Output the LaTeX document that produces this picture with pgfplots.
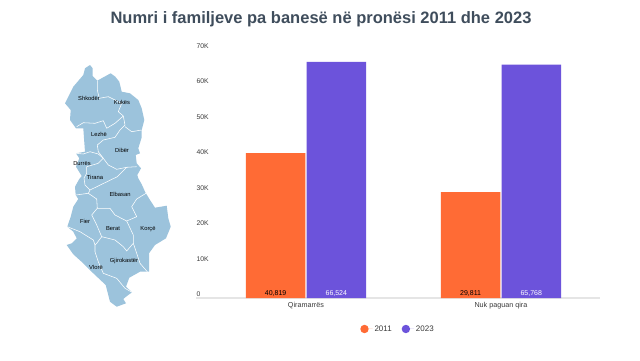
\documentclass[border=0pt]{standalone}
\usepackage{pgfplots}
\pgfplotsset{compat=1.18}
\usepackage{fontspec}
\setmainfont{Liberation Sans}
\definecolor{mapblue}{HTML}{9CC3DC}
\definecolor{barorange}{HTML}{FF6B35}
\definecolor{barpurple}{HTML}{6C53DB}
\definecolor{titlecol}{HTML}{3F4D5C}
\definecolor{txtcol}{HTML}{3A3A3A}
\tikzset{
  mapborder/.style={white,line width=0.55pt,line join=round,no markers},
  lab/.style={font=\fontsize{5.8}{6}\selectfont,text=black,inner sep=0pt}}
\begin{document}
\begin{tikzpicture}[x=1pt,y=1pt]
\path[use as bounding box,fill=white] (0,0) rectangle (640,360);
\begin{axis}[
  at={(0pt,0pt)},anchor=south west,scale only axis,width=640pt,height=360pt,
  xmin=0,xmax=640,ymin=0,ymax=360,y dir=reverse,axis lines=none,clip=false]
\addplot[fill=mapblue,draw=none,no markers] coordinates {
(90,65)(92.7,68.3)(92.7,76)(97.3,80.7)(103.3,77.3)(110.7,73.3)(115.3,76.7)(119.3,81.7)(121.7,91.7)(130,93.3)(138.3,100)(141.7,108.3)(144.3,120)(141.7,130)(141.7,137.3)(138.3,148.3)(140,153.3)(135.7,155)(136.7,163.3)(141,168.3)(137.3,175)(138.3,178.3)(141.7,184.3)(145.3,192.3)(150,200)(155,207.7)(166.7,205.7)(168.3,218.3)(170.7,226.7)(166,238.3)(155,245)(149,253.3)(149,271.7)(140,271.7)(129.3,277.7)(126,286.7)(132,292.3)(127.3,295.7)(123.3,299)(126,303.3)(116.7,306.7)(110,301.7)(105.7,285)(93.3,273.3)(83.3,263.3)(73.3,254.3)(66.7,245)(71.7,243.3)(76.7,238.3)(73.3,231.7)(67.3,226.7)(70.7,216.7)(73.3,206.7)(78.3,199)(75.7,195)(75,186.7)(79.3,179)(81.7,176)(76,166.7)(79.3,158.3)(76,153.3)(85,151.7)(84,138.3)(83.3,128.3)(76,128.3)(70,120)(70.7,110)(65,103.3)(73.3,86.7)(83.3,75)(85,68.3)
} --cycle;
\addplot[mapborder] coordinates {(97.3,80.7)(97.3,90)(99.3,98.3)(108.3,96.7)(115,100)(121.7,103.3)(118.3,111.7)(123.3,116)(115,123.3)(106.7,128.3)(103.3,120.7)(95,123.3)(83.3,122.7)(76.7,126.7)};
\addplot[mapborder] coordinates {(123.3,116)(125,125)(120,130)(115,137.3)(103.3,140)(97.3,145)(98.3,151.7)(103.3,158.3)(108.3,165)(116.7,169.3)(126.7,167.3)(136.7,166.7)};
\addplot[mapborder] coordinates {(125,126.7)(131.7,131.7)(141.7,130)};
\addplot[mapborder] coordinates {(76,153.3)(83.3,154)(90,151.7)(98.3,154)(103.3,158.3)(98.3,163.3)(86.7,166.7)(86.7,173.3)(84,178)(85,185)(90,190)};
\addplot[mapborder] coordinates {(76,195)(88.3,193.3)(90,190)(101.7,184.3)(117.3,176.7)(126.7,167.3)};
\addplot[mapborder] coordinates {(88.3,193.3)(96.7,199)(97.3,208.3)(110,208.3)(115,215)(126.7,221)(136.7,216.7)(131.7,206.7)(136.7,199)(146,193.3)};
\addplot[mapborder] coordinates {(97.3,208.3)(91.7,215)(96.7,225)(101.7,236.7)};
\addplot[mapborder] coordinates {(67.3,226.7)(80,231.7)(93.3,240)(95,245)(95,251.7)(98.3,261.7)(103.3,273.3)(116.7,278.3)(125,288.3)(132,292.3)};
\addplot[mapborder] coordinates {(95,245)(96.7,243.3)(101.7,236.7)(115,240)(123.3,246.7)(126.7,251)(133.3,243.3)};
\addplot[mapborder] coordinates {(126.7,221)(133.3,235)(133.3,243.3)(136.7,253.3)(140,263.3)(147.3,271.7)};
\node[lab] at (axis cs:89,98) {Shkodër};
\node[lab] at (axis cs:122,102) {Kukës};
\node[lab] at (axis cs:99,134) {Lezhë};
\node[lab] at (axis cs:122,150) {Dibër};
\node[lab] at (axis cs:82,164) {Durrës};
\node[lab] at (axis cs:95,177) {Tirana};
\node[lab] at (axis cs:120,194) {Elbasan};
\node[lab] at (axis cs:85,221) {Fier};
\node[lab] at (axis cs:113,229) {Berat};
\node[lab] at (axis cs:148,229) {Korçë};
\node[lab] at (axis cs:124,261) {Gjirokastër};
\node[lab] at (axis cs:96,267) {Vlorë};
\node[font=\fontsize{16.5}{20}\bfseries\selectfont,text=titlecol,inner sep=0pt] at (axis cs:321,19.5) {Numri i familjeve pa banesë në pronësi 2011 dhe 2023};
\end{axis}
\begin{axis}[
  at={(196pt,62pt)},anchor=south west,scale only axis,width=404pt,height=248.5pt,
  xmin=-0.564,xmax=1.508,ymin=0,ymax=70000,
  axis x line*=bottom,axis y line=none,
  scaled y ticks=false,
  x axis line style={draw=black!10,line width=1.5pt,-},
  ybar=1.2pt,bar width=59.5pt,
  xtick={0,1},xticklabels={Qiramarrës,Nuk paguan qira},
  xtick style={draw=none},
  xticklabel style={font=\fontsize{7.2}{9}\selectfont,text=txtcol,yshift=3.5pt},
  legend columns=2,
  legend style={draw=none,fill=none,at={(0.5,-0.1247)},anchor=center,font=\fontsize{8}{9}\selectfont,text=txtcol,/tikz/every even column/.append style={column sep=8pt}},
  legend image code/.code={\path (-4.2pt,0pt) -- (8pt,0pt);\fill[#1] (0pt,0pt) circle (4.2pt);},
  visualization depends on=y\as\rawy,
  nodes near coords,
  /pgf/number format/.cd,1000 sep={,},assume math mode=true,
  ]
\addplot[fill=barorange,draw=none,
  every node near coord/.append style={anchor=south,font=\fontsize{7}{8}\selectfont,text=black,inner sep=1pt,shift={(axis direction cs:0,-\rawy)}}] coordinates {(0,40819)(1,29811)};
\addplot[fill=barpurple,draw=none,
  every node near coord/.append style={anchor=south,font=\fontsize{7}{8}\selectfont,text=white,inner sep=1pt,shift={(axis direction cs:0,-\rawy)}}] coordinates {(0,66524)(1,65768)};
\addlegendentry{2011}
\addlegendentry{2023}
\end{axis}
\begin{axis}[
  at={(196pt,62pt)},anchor=south west,scale only axis,width=404pt,height=248.5pt,
  xmin=0,xmax=1,ymin=0,ymax=70000,axis x line=none,axis y line=left,
  scaled y ticks=false,
  y axis line style={draw=none},ytick={0,10000,20000,30000,40000,50000,60000,70000},
  yticklabels={0,10K,20K,30K,40K,50K,60K,70K},
  ytick style={draw=none},
  yticklabel style={font=\fontsize{6.8}{8}\selectfont,text=txtcol,anchor=south west,inner sep=0pt,xshift=2.5pt,yshift=1pt},
  ]
\addplot[draw=none] coordinates {(0,0)};
\end{axis}
\end{tikzpicture}
\end{document}
